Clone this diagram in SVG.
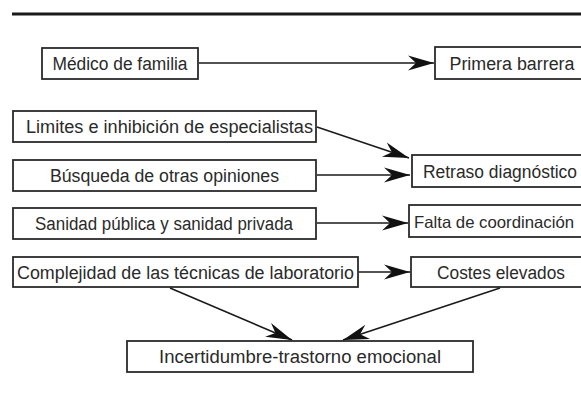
<svg xmlns="http://www.w3.org/2000/svg" width="581" height="396" viewBox="0 0 581 396">
<style>
.box{fill:#fff;stroke:#2b2b2b;stroke-width:1.8}
.t{font-family:"Liberation Sans",Arial,sans-serif;font-size:18px;fill:#2a2a2a;text-anchor:middle}
.c{stroke:#1a1a1a;stroke-width:1.6;fill:none;marker-end:url(#ah)}
</style>
<defs>
<marker id="ah" markerUnits="userSpaceOnUse" markerWidth="30" markerHeight="18" viewBox="-28 -9 30 18" refX="0" refY="0" orient="auto">
<path d="M0,0 L-26,-7.5 L-18,0 L-26,7.5 Z" fill="#111"/>
</marker>
</defs>
<rect width="581" height="396" fill="#fff"/>
<line x1="12" y1="14" x2="581" y2="14" stroke="#1a1a1a" stroke-width="3"/>
<g id="medico"><rect class="box" x="42" y="48" width="156" height="31"/><text class="t" x="120" y="70" textLength="135" lengthAdjust="spacingAndGlyphs">Médico de familia</text></g>
<g id="primera"><rect class="box" x="435" y="47" width="160" height="32"/><text class="t" x="512" y="70" textLength="125" lengthAdjust="spacingAndGlyphs">Primera barrera</text></g>
<g id="limites"><rect class="box" x="13" y="111" width="303" height="31"/><text class="t" x="169.5" y="133" textLength="287" lengthAdjust="spacingAndGlyphs">Limites e inhibición de especialistas</text></g>
<g id="busqueda"><rect class="box" x="13" y="160" width="303" height="31"/><text class="t" x="164.5" y="182" textLength="229" lengthAdjust="spacingAndGlyphs">Búsqueda de otras opiniones</text></g>
<g id="sanidad"><rect class="box" x="13" y="208" width="303" height="31"/><text class="t" x="164" y="230" textLength="258" lengthAdjust="spacingAndGlyphs">Sanidad pública y sanidad privada</text></g>
<g id="complejidad"><rect class="box" x="13" y="257" width="345" height="30"/><text class="t" x="185.5" y="278.5" textLength="337" lengthAdjust="spacingAndGlyphs">Complejidad de las técnicas de laboratorio</text></g>
<g id="retraso"><rect class="box" x="412" y="155" width="180" height="32"/><text class="t" x="500" y="178" textLength="154" lengthAdjust="spacingAndGlyphs">Retraso diagnóstico</text></g>
<g id="falta"><rect class="box" x="409" y="205" width="185" height="32"/><text class="t" x="414" y="228" style="text-anchor:start;font-size:16.5px" textLength="160" lengthAdjust="spacingAndGlyphs">Falta de coordinación</text></g>
<g id="costes"><rect class="box" x="411" y="257" width="180" height="30"/><text class="t" x="501" y="278.5" textLength="128" lengthAdjust="spacingAndGlyphs">Costes elevados</text></g>
<g id="incertidumbre"><rect class="box" x="127" y="341" width="346" height="31"/><text class="t" x="300" y="363" textLength="282" lengthAdjust="spacingAndGlyphs">Incertidumbre-trastorno emocional</text></g>
<g id="connectors">
<line class="c" x1="199" y1="63" x2="434" y2="63"/>
<line class="c" x1="317" y1="127" x2="409" y2="158"/>
<line class="c" x1="317" y1="175" x2="410" y2="175"/>
<line class="c" x1="317" y1="223" x2="408" y2="223"/>
<line class="c" x1="359" y1="272" x2="410" y2="272"/>
<line class="c" x1="170" y1="288" x2="292" y2="340"/>
<line class="c" x1="500" y1="288" x2="343" y2="340"/>
</g>
</svg>
